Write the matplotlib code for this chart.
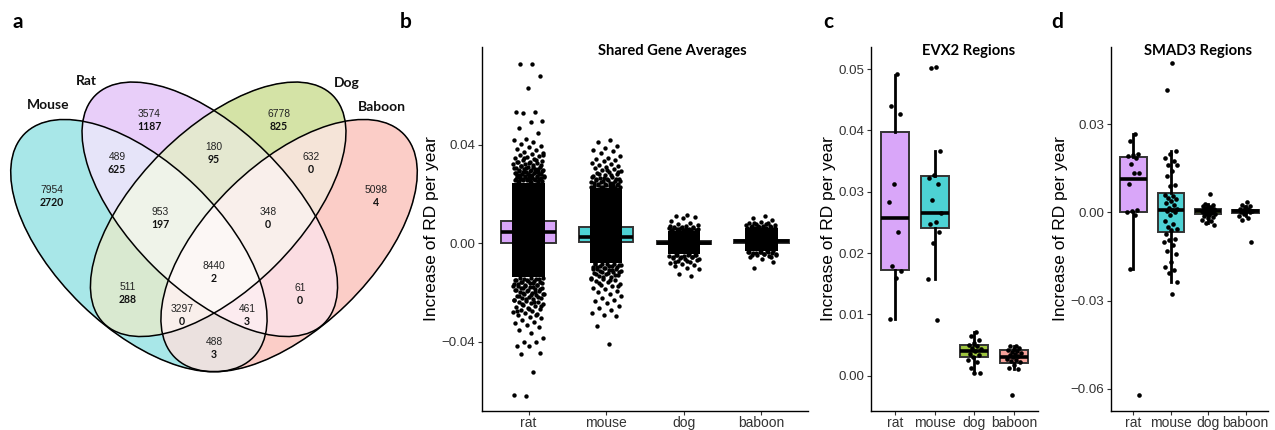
import numpy as np
import matplotlib
matplotlib.use('Agg')
import matplotlib.pyplot as plt
from matplotlib.patches import Ellipse

## data
species = ['rat', 'mouse', 'dog', 'baboon']
box_colors = ['#D9A6F9', '#4DD2D4', '#9EC43F', '#F6A29A']

# panel a - venn counts (plain = genes, bold = significant)
venn_sets = ['Mouse', 'Rat', 'Dog', 'Baboon']
venn_regions = ['M', 'R', 'D', 'B', 'MR', 'RD', 'DB', 'MD', 'RB', 'MB',
                'MRD', 'RDB', 'MDB', 'MRB', 'MRDB']
venn_total = [7954, 3574, 6778, 5098, 489, 180, 632, 511, 61, 488,
              953, 348, 3297, 461, 8440]
venn_bold = [2720, 1187, 825, 4, 625, 95, 0, 288, 0, 3, 197, 0, 0, 3, 2]

# panel b - shared gene averages (boxes + dense cloud + sparse tails)
shared_q1 = [0.0000, 0.0004, -0.0003, 0.0002]
shared_med = [0.0045, 0.0024, 0.0002, 0.0008]
shared_q3 = [0.0089, 0.0065, 0.0007, 0.0014]
shared_core_lo = [-0.0138, -0.0081, -0.0045, -0.0032]
shared_core_hi = [0.0244, 0.0223, 0.0050, 0.0060]
rat_tail = [0.0727, 0.0725, 0.0678, 0.0628, 0.0533, 0.0531, 0.0527, 0.0494, 0.0490, 0.0466,
            0.0448, 0.0421, 0.0417, 0.0411, 0.0402, 0.0394, 0.0388, 0.0380, 0.0376, 0.0370,
            0.0366, 0.0361, 0.0357, 0.0352, 0.0349, 0.0344, 0.0341, 0.0338, 0.0334, 0.0331,
            0.0328, 0.0325, 0.0322, 0.0319, 0.0316, 0.0313, 0.0310, 0.0308, 0.0305, 0.0302,
            0.0300, 0.0297, 0.0295, 0.0292, 0.0290, 0.0288, 0.0285, 0.0283, 0.0281, 0.0279,
            0.0277, 0.0275, 0.0272, 0.0270, 0.0268, 0.0266, 0.0264, 0.0262, 0.0260, 0.0258,
            0.0256, 0.0254, 0.0252, 0.0250, 0.0248, 0.0246,
            -0.0621, -0.0619, -0.0522, -0.0451, -0.0446, -0.0420, -0.0417, -0.0403, -0.0400,
            -0.0385, -0.0367, -0.0352, -0.0340, -0.0333, -0.0325, -0.0320, -0.0312, -0.0305,
            -0.0300, -0.0294, -0.0289, -0.0286, -0.0280, -0.0275, -0.0272, -0.0267, -0.0263,
            -0.0260, -0.0255, -0.0251, -0.0248, -0.0245, -0.0241, -0.0238, -0.0234, -0.0232,
            -0.0228, -0.0225, -0.0222, -0.0218, -0.0215, -0.0212, -0.0208, -0.0205, -0.0202,
            -0.0199, -0.0196, -0.0193, -0.0190, -0.0187, -0.0184, -0.0181, -0.0178, -0.0175,
            -0.0172, -0.0169, -0.0166, -0.0163, -0.0160, -0.0157, -0.0154, -0.0151, -0.0148,
            -0.0145, -0.0142]
rat_fringe = [0.0249, 0.0251, 0.0253, 0.0255, 0.0257, 0.0259, 0.0261, 0.0263, 0.0265, 0.0267,
              0.0269, 0.0271, 0.0274, 0.0276, 0.0278, 0.0280, 0.0282, 0.0284, 0.0287, 0.0289,
              0.0291, 0.0294, 0.0296, 0.0299, 0.0303, 0.0306, 0.0309, 0.0314, 0.0318, 0.0323,
              0.0329, 0.0336, 0.0345, 0.0356,
              -0.0141, -0.0143, -0.0146, -0.0149, -0.0152, -0.0155, -0.0158, -0.0161, -0.0164,
              -0.0167, -0.0170, -0.0173, -0.0176, -0.0180, -0.0183, -0.0186, -0.0189, -0.0192,
              -0.0197, -0.0201, -0.0206, -0.0210, -0.0216, -0.0221, -0.0227, -0.0233, -0.0240,
              -0.0247, -0.0256, -0.0266, -0.0277, -0.0291]
mouse_tail = [0.0418, 0.0412, 0.0396, 0.0385, 0.0378, 0.0372, 0.0365, 0.0352, 0.0347, 0.0343,
              0.0338, 0.0333, 0.0326, 0.0322, 0.0318, 0.0312, 0.0308, 0.0303, 0.0299, 0.0295,
              0.0291, 0.0287, 0.0283, 0.0279, 0.0276, 0.0272, 0.0269, 0.0266, 0.0262, 0.0259,
              0.0256, 0.0253, 0.0250, 0.0247, 0.0244, 0.0241, 0.0238, 0.0236, 0.0233, 0.0231,
              0.0228, 0.0226,
              -0.0408, -0.0336, -0.0298, -0.0292, -0.0286, -0.0270, -0.0262, -0.0255, -0.0245,
              -0.0236, -0.0230, -0.0222, -0.0215, -0.0208, -0.0200, -0.0195, -0.0188, -0.0182,
              -0.0176, -0.0170, -0.0165, -0.0160, -0.0155, -0.0150, -0.0146, -0.0142, -0.0138,
              -0.0134, -0.0130, -0.0126, -0.0122, -0.0119, -0.0116, -0.0113, -0.0110, -0.0107,
              -0.0104, -0.0101, -0.0098, -0.0095, -0.0092, -0.0089, -0.0086, -0.0084]
mouse_fringe = [0.0225, 0.0227, 0.0229, 0.0232, 0.0234, 0.0237, 0.0239, 0.0242, 0.0245, 0.0248,
                0.0251, 0.0254, 0.0258, 0.0261, 0.0265, 0.0270, 0.0275, 0.0281, 0.0288, 0.0297,
                -0.0083, -0.0085, -0.0087, -0.0090, -0.0093, -0.0096, -0.0099, -0.0102, -0.0106,
                -0.0109, -0.0113, -0.0117, -0.0121, -0.0126, -0.0131, -0.0137, -0.0144, -0.0152,
                -0.0162, -0.0175]
dog_tail = [0.0114, 0.0111, 0.0104, 0.0102, 0.0090, 0.0080, 0.0076, 0.0072, 0.0069, 0.0066,
            0.0064, 0.0062, 0.0060, 0.0058, 0.0056, 0.0054, 0.0053, 0.0052,
            -0.0134, -0.0126, -0.0106, -0.0100, -0.0094, -0.0088, -0.0084, -0.0080, -0.0076,
            -0.0072, -0.0068, -0.0064, -0.0061, -0.0058, -0.0055, -0.0052, -0.0050, -0.0048,
            -0.0047]
dog_fringe = [0.0051, 0.0052, 0.0054, 0.0055, 0.0057, 0.0059, 0.0061, 0.0063, 0.0066, 0.0070,
              -0.0046, -0.0048, -0.0050, -0.0052, -0.0055, -0.0058, -0.0062, -0.0066, -0.0071,
              -0.0078]
baboon_tail = [0.0110, 0.0100, 0.0092, 0.0087, 0.0083, 0.0080, 0.0077, 0.0074, 0.0071, 0.0069,
               0.0067, 0.0065, 0.0063, 0.0062,
               -0.0100, -0.0078, -0.0064, -0.0058, -0.0054, -0.0050, -0.0047, -0.0044, -0.0041,
               -0.0039, -0.0037, -0.0035, -0.0034]
baboon_fringe = [0.0061, 0.0062, 0.0064, 0.0066, 0.0068, 0.0070, 0.0073, 0.0076, 0.0080,
                 -0.0033, -0.0035, -0.0036, -0.0038, -0.0040, -0.0043, -0.0046, -0.0050, -0.0056]

# panel c - EVX2 regions
evx2_rat = [0.0492, 0.0440, 0.0427, 0.0312, 0.0284, 0.0234, 0.0179, 0.0170, 0.0160, 0.0093]
evx2_mouse = [0.0504, 0.0502, 0.0367, 0.0327, 0.0322, 0.0312, 0.0287, 0.0266, 0.0251, 0.0248,
              0.0235, 0.0217, 0.0158, 0.0091]
evx2_dog = [0.0071, 0.0064, 0.0058, 0.0054, 0.0050, 0.0048, 0.0046, 0.0044, 0.0040, 0.0036,
            0.0034, 0.0030, 0.0026, 0.0022, 0.0012, 0.0004, 0.0004]
evx2_baboon = [0.0049, 0.0048, 0.0046, 0.0044, 0.0042, 0.0041, 0.0038, 0.0037, 0.0036, 0.0033,
               0.0032, 0.0030, 0.0028, 0.0026, 0.0024, 0.0022, 0.0018, 0.0013, 0.0011, -0.0031]
evx2_whislo = [0.0093, 0.0158, 0.0004, 0.0011]
evx2_q1 = [0.0172, 0.0241, 0.0030, 0.0020]
evx2_med = [0.0258, 0.0265, 0.0041, 0.0031]
evx2_q3 = [0.0398, 0.0325, 0.0050, 0.0042]
evx2_whishi = [0.0491, 0.0367, 0.0071, 0.0049]

# panel d - SMAD3 regions
smad3_rat = [0.0266, 0.0242, 0.0200, 0.0194, 0.0190, 0.0186, 0.0164, 0.0135, 0.0133, 0.0095,
             0.0008, 0.0003, 0.0001, -0.0009, -0.0194, -0.0621]
smad3_mouse = [0.0506, 0.0416, 0.0209, 0.0199, 0.0185, 0.0175, 0.0162, 0.0160, 0.0140, 0.0125,
               0.0093, 0.0090, 0.0060, 0.0055, 0.0050, 0.0045, 0.0040, 0.0032, 0.0025, 0.0015,
               0.0010, 0.0008, 0.0005, 0.0000, -0.0010, -0.0030, -0.0040, -0.0050, -0.0055,
               -0.0060, -0.0075, -0.0090, -0.0095, -0.0100, -0.0110, -0.0130, -0.0140, -0.0170,
               -0.0185, -0.0195, -0.0205, -0.0236, -0.0278]
smad3_dog = [0.0062, 0.0030, 0.0025, 0.0022, 0.0020, 0.0018, 0.0015, 0.0013, 0.0012, 0.0010,
             0.0008, 0.0006, 0.0005, 0.0004, 0.0003, 0.0002, 0.0001, 0.0000, -0.0002, -0.0004,
             -0.0005, -0.0008, -0.0012, -0.0015, -0.0020, -0.0025, -0.0030, -0.0035, -0.0042]
smad3_baboon = [0.0035, 0.0025, 0.0020, 0.0018, 0.0012, 0.0010, 0.0008, 0.0005, 0.0003, 0.0002,
                0.0000, -0.0005, -0.0012, -0.0020, -0.0025, -0.0102]
smad3_whislo = [-0.0194, -0.0236, -0.0035, -0.0012]
smad3_q1 = [0.0001, -0.0067, -0.0005, -0.0002]
smad3_med = [0.0114, 0.0008, 0.0003, 0.0003]
smad3_q3 = [0.0188, 0.0066, 0.0013, 0.0008]
smad3_whishi = [0.0266, 0.0209, 0.0030, 0.0020]

## venn layout (pixel coords, y down): centre x, centre y, semi-major, semi-minor, angle
mouse_ell = (138.9, 245.6, 159.9, 82.3, 44.2)
rat_ell = (209.8, 209.3, 161.5, 80.2, 44.8)
ellipses = [mouse_ell, rat_ell,
            (428 - rat_ell[0], rat_ell[1], rat_ell[2], rat_ell[3], 180 - rat_ell[4]),
            (428 - mouse_ell[0], mouse_ell[1], mouse_ell[2], mouse_ell[3], 180 - mouse_ell[4])]

region_colors = {1: '#A8E7E8', 2: '#E8CEFA', 4: '#D4E3A6', 8: '#FBCDC8',
                 3: '#E6E4FA', 6: '#E4E8D0', 12: '#F5E4D8', 5: '#DAEAD0',
                 10: '#FBDEE2', 9: '#ECE1DF', 7: '#F0F4EA', 14: '#FAF0EC',
                 13: '#F9F0EC', 11: '#FCECF0', 15: '#FCF8F6'}
region_xy = [(52, 190), (149, 114), (279, 114), (376, 190), (117, 157), (214, 147),
             (311, 157), (128, 287), (300, 288), (214, 342), (160, 212), (268, 212),
             (182, 309), (247, 309), (214, 266)]
label_xy = [(48, 105), (86, 81), (347, 83), (382, 107)]

plt.rcParams['font.family'] = ['Liberation Sans', 'DejaVu Sans']
W, H = 1275, 430
fig = plt.figure(figsize=(W / 100, H / 100), dpi=100, facecolor='white')

## panel a
ax_a = fig.add_axes([0, 0, 420 / W, 1])
ax_a.set_xlim(0, 420)
ax_a.set_ylim(430, 0)
ax_a.axis('off')
gx, gy = np.meshgrid(np.arange(0, 420, 0.5) + 0.25, np.arange(0, 430, 0.5) + 0.25)
code = np.zeros(gx.shape, int)
for k, (cx, cy, a, b, ang) in enumerate(ellipses):
    t = np.radians(ang)
    u = (gx - cx) * np.cos(t) + (gy - cy) * np.sin(t)
    v = -(gx - cx) * np.sin(t) + (gy - cy) * np.cos(t)
    code += ((u / a) ** 2 + (v / b) ** 2 <= 1).astype(int) << k
img = np.zeros(gx.shape + (4,))
for c, col in region_colors.items():
    img[code == c] = matplotlib.colors.to_rgba(col)
ax_a.imshow(img, extent=(0, 420, 430, 0), interpolation='bilinear', zorder=1)
for (cx, cy, a, b, ang) in ellipses:
    ax_a.add_patch(Ellipse((cx, cy), 2 * a, 2 * b, angle=ang, fill=False, lw=1.1,
                           ec='black', zorder=2))
for (x, y), n1, n2 in zip(region_xy, venn_total, venn_bold):
    ax_a.text(x, y, str(n1), ha='center', va='center', fontsize=7.4, color='#222222', zorder=3)
    ax_a.text(x, y + 12.5, str(n2), ha='center', va='center', fontsize=7.6,
              fontweight='bold', family='Lato', color='#111111', zorder=3)
for (x, y), name in zip(label_xy, venn_sets):
    ax_a.text(x, y, name, ha='center', va='center', fontsize=10, fontweight='bold',
              family='Lato', color='#111111')


## helpers for b, c, d
def jitter(n, width=0.2):
    return ((np.arange(n) + 1) * 0.6180339887 % 1 - 0.5) * 2 * width


def style_axis(ax, yticks, ylim):
    ax.set_xlim(0.4, 4.6)
    ax.set_ylim(*ylim)
    for s in ['top', 'right']:
        ax.spines[s].set_visible(False)
    for s in ['left', 'bottom']:
        ax.spines[s].set_linewidth(1.0)
    ax.set_xticks(range(1, 5))
    ax.set_xticklabels(species)
    ax.set_yticks(yticks)
    ax.set_yticklabels([('%.2f' % t).replace('-', '\u2212') for t in yticks])
    ax.tick_params(length=3, width=0.8, color='#333333', labelsize=9.6,
                   labelcolor='#333333', pad=2)
    ax.tick_params(axis='x', labelsize=10, pad=0.8)
    ax.set_ylabel('Increase of RD per year', fontsize=12.5, labelpad=1.5)


def draw_boxes(ax, whislo, q1, med, q3, whishi):
    stats = [dict(whislo=a, q1=b, med=c, q3=d, whishi=e, fliers=[])
             for a, b, c, d, e in zip(whislo, q1, med, q3, whishi)]
    bp = ax.bxp(stats, positions=range(1, 5), widths=0.7, patch_artist=True,
                showfliers=False, showcaps=False,
                boxprops=dict(edgecolor='#333333', linewidth=1.4),
                whiskerprops=dict(color='black', linewidth=2.0),
                medianprops=dict(color='black', linewidth=2.6, solid_capstyle='butt'))
    for patch, col in zip(bp['boxes'], box_colors):
        patch.set_facecolor(col)
    return bp


def panel_title(text, x, y):
    fig.text(x / W, 1 - y / H, text, ha='center', va='center', fontsize=10.6,
             fontweight='bold', family='Lato')


## panel b
ax_b = fig.add_axes([482 / W, 19 / H, 326 / W, 364 / H])
draw_boxes(ax_b, shared_q1, shared_q1, shared_med, shared_q3, shared_q3)
pos = np.arange(1, 5)
ax_b.bar(pos, np.array(shared_core_hi) - np.array(shared_core_lo), bottom=shared_core_lo,
         width=0.42, color='black', zorder=3)
for p, tail, fringe in zip(pos, [rat_tail, mouse_tail, dog_tail, baboon_tail],
                           [rat_fringe, mouse_fringe, dog_fringe, baboon_fringe]):
    vals = tail + fringe
    ax_b.scatter(p + jitter(len(vals)), vals, s=10, c='black', lw=0, zorder=4)
style_axis(ax_b, [-0.04, 0.0, 0.04], (-0.0682, 0.0796))
panel_title('Shared Gene Averages', 672, 51)

## panel c
ax_c = fig.add_axes([871 / W, 19 / H, 167 / W, 364 / H])
draw_boxes(ax_c, evx2_whislo, evx2_q1, evx2_med, evx2_q3, evx2_whishi)
for p, vals in zip(pos, [evx2_rat, evx2_mouse, evx2_dog, evx2_baboon]):
    ax_c.scatter(p + jitter(len(vals), 0.18), vals, s=11, c='black', lw=0, zorder=4)
style_axis(ax_c, [0.0, 0.01, 0.02, 0.03, 0.04, 0.05], (-0.00575, 0.0536))
panel_title('EVX2 Regions', 969, 51)

## panel d
ax_d = fig.add_axes([1111 / W, 19 / H, 157 / W, 364 / H])
draw_boxes(ax_d, smad3_whislo, smad3_q1, smad3_med, smad3_q3, smad3_whishi)
for p, vals in zip(pos, [smad3_rat, smad3_mouse, smad3_dog, smad3_baboon]):
    ax_d.scatter(p + jitter(len(vals), 0.18), vals, s=11, c='black', lw=0, zorder=4)
style_axis(ax_d, [-0.06, -0.03, 0.0, 0.03], (-0.0675, 0.0562))
panel_title('SMAD3 Regions', 1198, 51)

## panel letters
for letter, x in zip('abcd', [18, 406, 828, 1057]):
    fig.text(x / W, 1 - 22 / H, letter, ha='center', va='center', fontsize=15,
             fontweight='bold', family='Lato')

fig.savefig('out.png', dpi=100)
